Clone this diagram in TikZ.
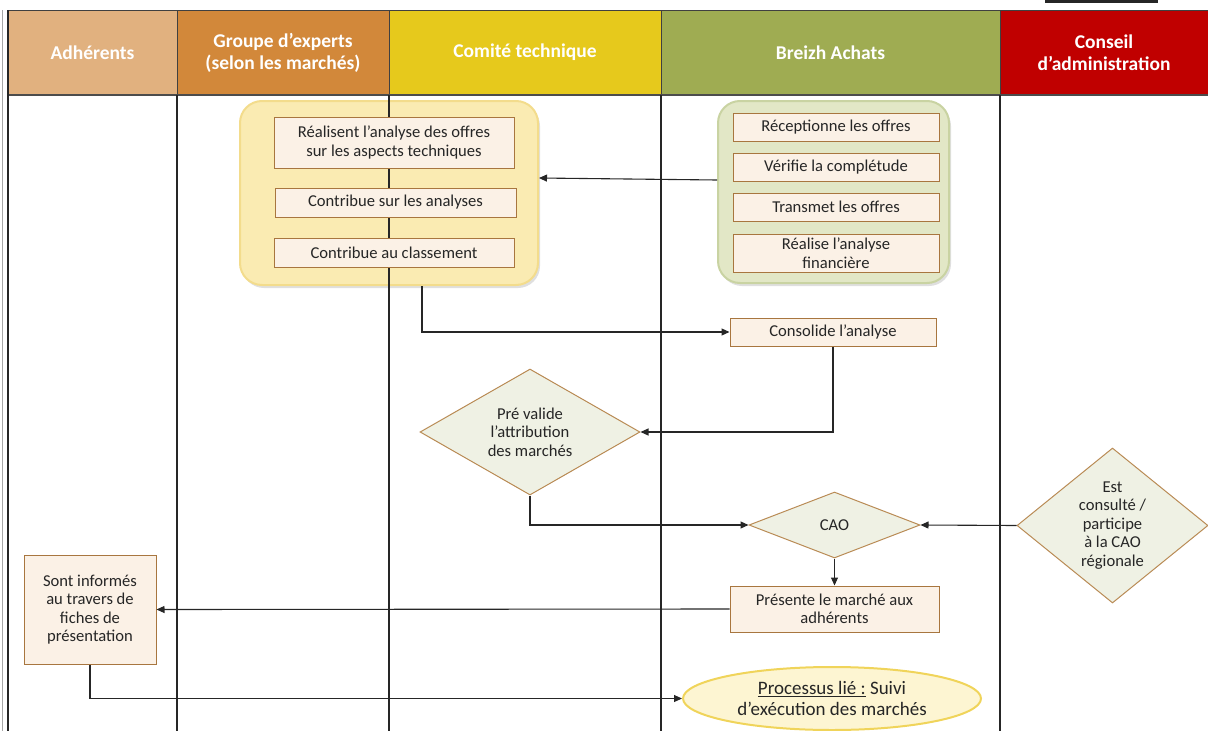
\documentclass[tikz,border=0pt]{standalone}
\usepackage{fontspec}
\setmainfont{Carlito}
\usetikzlibrary{shapes.geometric,arrows.meta,shadows}
\definecolor{adhcol}{HTML}{E1B17F}
\definecolor{grpcol}{HTML}{D2883A}
\definecolor{comcol}{HTML}{E6C91C}
\definecolor{brzcol}{HTML}{9FAC52}
\definecolor{cnscol}{HTML}{C00000}
\definecolor{boxfill}{HTML}{FBF1E6}
\definecolor{boxline}{HTML}{A8763F}
\definecolor{diafill}{HTML}{EFF1E4}
\definecolor{dialine}{HTML}{B98B55}
\definecolor{techfill}{HTML}{FAEBB2}
\definecolor{techline}{HTML}{F3DC8C}
\definecolor{finfill}{HTML}{E2E7C6}
\definecolor{finline}{HTML}{C9D3A2}
\definecolor{suivifill}{HTML}{FDF5D2}
\definecolor{suiviline}{HTML}{F0D45A}
\newcommand{\bodysize}{\fontsize{16.6}{18.5}\selectfont}
\begin{document}
\begin{tikzpicture}
[x=1pt,y=-1pt,
  headdecorate/.style={shape=rectangle,draw=black!75,inner sep=0pt,text=white,%
    font=\fontsize{19.5}{22}\selectfont\bfseries,align=center,minimum height=85pt},%
  lanedecorate/.style={-,draw=black!85,line width=1.2pt},%
  groupdecorate/.style={shape=rectangle,rounded corners=22pt,line width=2pt,inner sep=0pt,%
    drop shadow={opacity=0.25,shadow xshift=2pt,shadow yshift=-3pt}},%
  boxdecorate/.style={shape=rectangle,draw=boxline,fill=boxfill,line width=1pt,%
    inner sep=0pt,align=center,font=\bodysize,text=black!85},%
  diadecorate/.style={shape=diamond,draw=dialine,fill=diafill,line width=1pt,%
    inner sep=0pt,align=center,font=\bodysize,text=black!85},%
  arrowdecorate/.style={-{Triangle[length=8pt,width=7pt]},line width=1.1pt,draw=black!85}]
\useasboundingbox (0,0) rectangle (1208,731);
\fill[black!85] (1045,0) rectangle (1158,3);
%% lane headers
\foreach \nodename/\x/\w/\colour/\caption in {
  adh/92.5/169/adhcol/Adhérents,
  grp/283/212/grpcol/{Groupe d’experts\\(selon les marchés)},
  com/525/272/comcol/Comité technique,
  brz/830.5/339/brzcol/Breizh Achats,
  cns/1104/208/cnscol/{Conseil\\d’administration}}
{
  \node (\nodename) at (\x,52.5) [headdecorate,fill=\colour,minimum width=\w pt] {\caption};
}
\draw[black!70,line width=2pt] (8,95) -- (1208,95);
%% groups
\node (tech) at (389,193) [groupdecorate,draw=techline,fill=techfill,
  minimum width=298pt,minimum height=184pt] {};
\node (fin) at (833.5,192) [groupdecorate,draw=finline,fill=finfill,
  minimum width=231pt,minimum height=182pt] {};
%% lanes
\draw[black!35,line width=1pt] (2.5,10) -- (2.5,731);
\draw[lanedecorate] (8,10) -- (8,731);
\foreach \x in {177,389,661,1000}
{
  \draw[lanedecorate] (\x,95) -- (\x,731);
}
%% boxes
\node (ana) at (394,142.5) [boxdecorate,minimum width=240pt,minimum height=51pt]
  {Réalisent l’analyse des offres\\sur les aspects techniques};
\node (contr) at (395.5,202.5) [boxdecorate,minimum width=241pt,minimum height=29pt]
  {Contribue sur les analyses};
\node (class) at (394,252.5) [boxdecorate,minimum width=240pt,minimum height=29pt]
  {Contribue au classement};
\foreach \nodename/\y/\h/\caption in {
  recep/127/28/Réceptionne les offres,
  verif/167/28/Vérifie la complétude,
  transm/207/28/Transmet les offres,
  fina/253/38/{Réalise l’analyse\\financière}}
{
  \node (\nodename) at (836,\y) [boxdecorate,minimum width=206pt,minimum height=\h pt] {\caption};
}
\node (cons) at (833,332) [boxdecorate,minimum width=206pt,minimum height=28pt]
  {Consolide l’analyse};
\node (prev) at (530,432) [diadecorate,aspect=1.75,minimum width=220pt,minimum height=126pt]
  {Pré valide\\l’attribution\\des marchés};
\node (cao) at (834.5,525) [diadecorate,aspect=2.6,minimum width=171pt,minimum height=66pt]
  {CAO};
\node (est) at (1112.5,525.5) [diadecorate,aspect=1.23,minimum width=191pt,minimum height=155pt]
  {Est\\consulté /\\participe\\à la CAO\\régionale};
\node (pres) at (834.5,609) [boxdecorate,minimum width=209pt,minimum height=46pt]
  {Présente le marché aux\\adhérents};
\node (inf) at (90,609.5) [boxdecorate,minimum width=132pt,minimum height=109pt]
  {Sont informés\\au travers de\\fiches de\\présentation};
\node (suivi) at (832,698.5) [shape=ellipse,draw=suiviline,fill=suivifill,line width=2pt,
  inner sep=0pt,minimum width=298pt,minimum height=63pt,align=center,text=black!85,
  font=\fontsize{19}{20.5}\selectfont]
  {\underline{Processus lié :} Suivi\\d’exécution des marchés};
%% connectors
\draw[arrowdecorate] ([yshift=12pt]fin.west) -- ([yshift=15pt]tech.east);
\draw[arrowdecorate] ([xshift=33pt]tech.south) |- (cons.west);
\draw[arrowdecorate] (cons.south) |- (prev.east);
\draw[arrowdecorate] (prev.south) |- (cao.west);
\draw[arrowdecorate] (est.west) -- (cao.east);
\draw[arrowdecorate] (cao.south) -- (pres.north);
\draw[arrowdecorate] (pres.west) -- (inf.east);
\draw[arrowdecorate] (inf.south) |- (suivi.west);
\end{tikzpicture}
\end{document}
